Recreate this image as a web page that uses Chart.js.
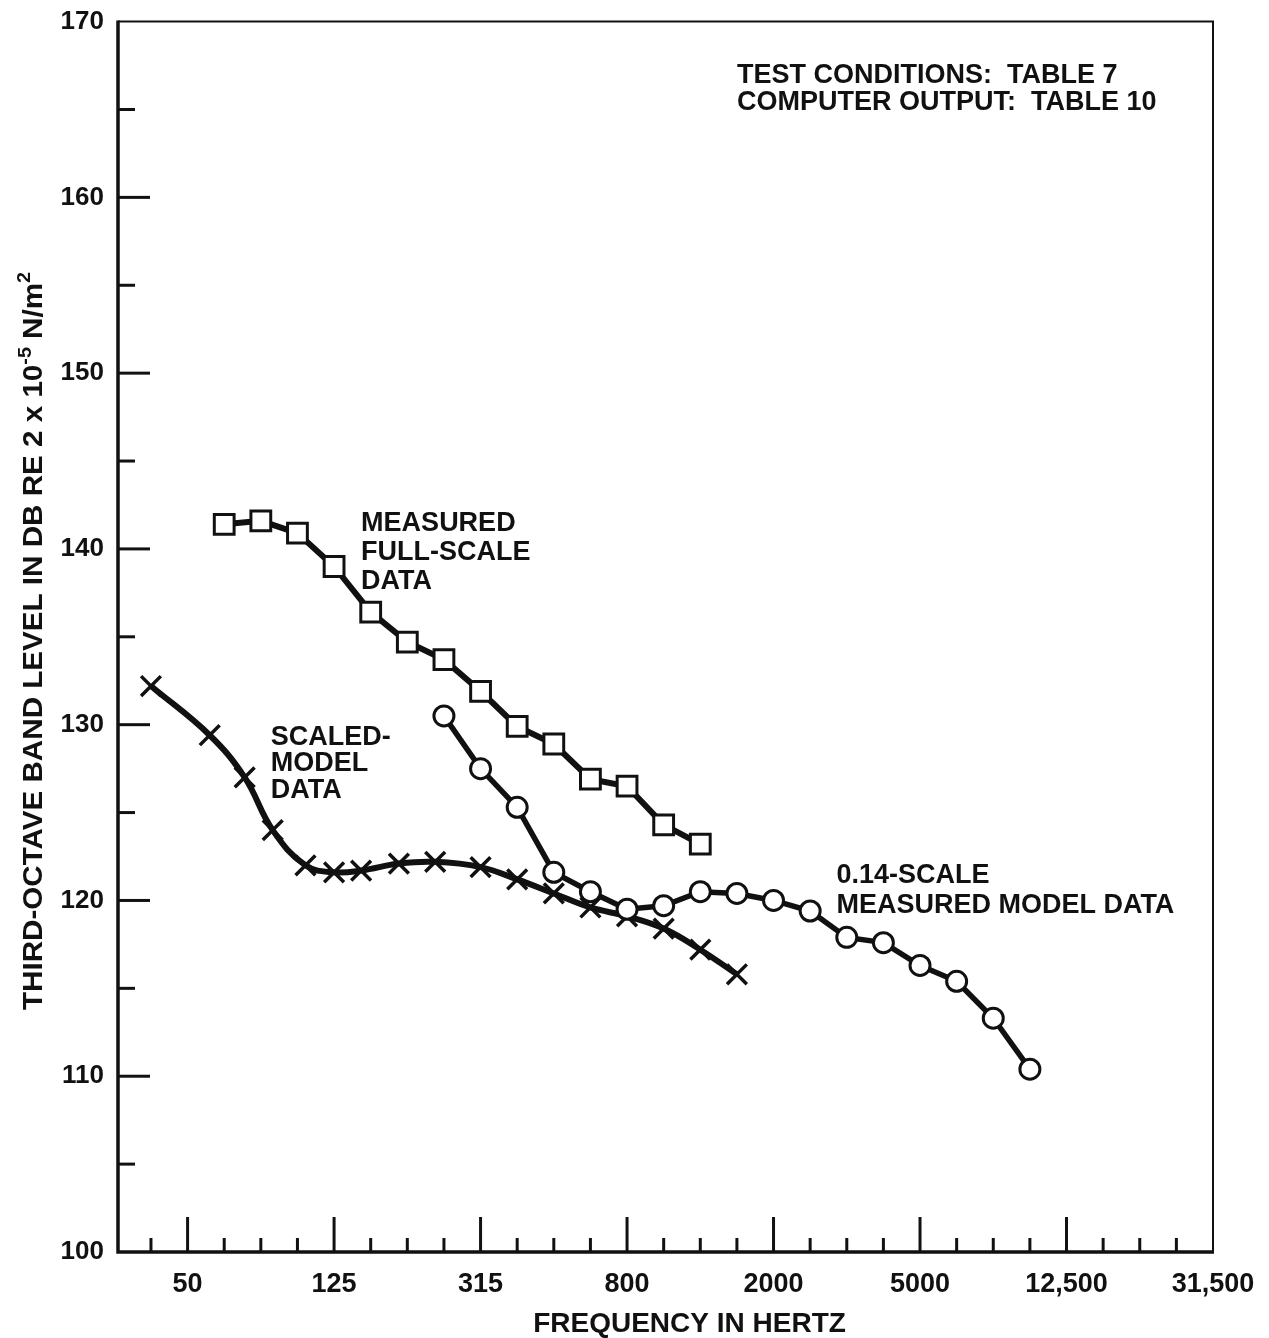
<!DOCTYPE html>
<html>
<head>
<meta charset="utf-8">
<script src="https://cdn.jsdelivr.net/npm/chart.js@4.4.1/dist/chart.umd.min.js"></script>
<style>
  html, body { margin: 0; padding: 0; background: #fff; }
  #wrap { width: 1269px; height: 1338px; position: relative; }
</style>
</head>
<body>
<div id="wrap"><canvas id="levelChart"></canvas></div>
<script>
// third-octave band centres along the frequency axis (nominal Hz)
var bands = [40, 50, 63, 80, 100, 125, 160, 200, 250, 315, 400, 500, 630, 800, 1000,
             1250, 1600, 2000, 2500, 3150, 4000, 5000, 6300, 8000, 10000, 12500, 16000,
             20000, 25000, 31500];
var bandLabels = { 50: '50', 125: '125', 315: '315', 800: '800', 2000: '2000',
                   5000: '5000', 12500: '12,500', 31500: '31,500' };

// measured full-scale data (squares)
var fullScaleHz = [63, 80, 100, 125, 160, 200, 250, 315, 400, 500, 630, 800, 1000, 1250];
var fullScaleDb = [141.4, 141.6, 140.9, 139.0, 136.4, 134.7, 133.7, 131.9, 129.9, 128.9,
                   126.9, 126.5, 124.3, 123.2];

// 0.14-scale measured model data (circles)
var modelHz = [250, 315, 400, 500, 630, 800, 1000, 1250, 1600, 2000, 2500, 3150, 4000,
               5000, 6300, 8000, 10000];
var modelDb = [130.5, 127.5, 125.3, 121.6, 120.5, 119.5, 119.7, 120.5, 120.4, 120.0,
               119.4, 117.9, 117.6, 116.3, 115.4, 113.3, 110.4];

// scaled-model data (crosses), frequencies shifted by the model scale
var scaledHz = [40, 57.5, 72, 86, 105, 125, 150, 190, 237, 315, 400, 500, 630, 800,
                1000, 1250, 1600];
var scaledDb = [132.2, 129.4, 127.0, 124.0, 122.0, 121.6, 121.7, 122.1, 122.2, 121.9,
                121.2, 120.4, 119.6, 119.1, 118.4, 117.2, 115.8];

// position along the band axis: band index, log-interpolated between centres
function bandPos(hz) {
    var i = bands.indexOf(hz);
    if (i >= 0) return i;
    for (i = 0; i < bands.length - 1; i++) {
        if (hz > bands[i] && hz < bands[i + 1]) {
            return i + Math.log(hz / bands[i]) / Math.log(bands[i + 1] / bands[i]);
        }
    }
    return hz < bands[0] ? 0 : bands.length - 1;
}

function toPoints(hz, db) {
    return hz.map(function (f, i) { return { x: bandPos(f), y: db[i] }; });
}

var notes = [
    { hz: 1600, db: 166.5, gap: 27, lines: ['TEST CONDITIONS:  TABLE 7', 'COMPUTER OUTPUT:  TABLE 10'] },
    { hz: 150, db: 141.0, gap: 29, lines: ['MEASURED', 'FULL-SCALE', 'DATA'] },
    { hz: 85, db: 128.85, gap: 26.5, lines: ['SCALED-', 'MODEL', 'DATA'] },
    { hz: 2950, db: 121.0, gap: 30, lines: ['0.14-SCALE', 'MEASURED MODEL DATA'] }
];

var ink = '#111';
var face = '"Liberation Sans", Arial, sans-serif';

var decorations = {
    id: 'decorations',
    afterDraw: function (chart) {
        var ctx = chart.ctx;
        var a = chart.chartArea;
        var xs = chart.scales.x;
        var ys = chart.scales.y;
        ctx.save();
        ctx.strokeStyle = ink;
        ctx.fillStyle = ink;
        ctx.lineCap = 'butt';

        // frame: heavier left and bottom axes
        ctx.lineWidth = 2;
        ctx.beginPath();
        ctx.moveTo(a.left, a.top); ctx.lineTo(a.right, a.top); ctx.lineTo(a.right, a.bottom);
        ctx.stroke();
        ctx.lineWidth = 3.5;
        ctx.beginPath();
        ctx.moveTo(a.left, a.top - 1); ctx.lineTo(a.left, a.bottom); ctx.lineTo(a.right + 1, a.bottom);
        ctx.stroke();

        // inward tick marks
        ctx.lineWidth = 3;
        ys.ticks.forEach(function (t) {
            if (t.value <= ys.min || t.value >= ys.max) return;
            var y = ys.getPixelForValue(t.value);
            var len = t.value % 10 === 0 ? 32 : 17;
            ctx.beginPath(); ctx.moveTo(a.left, y); ctx.lineTo(a.left + len, y); ctx.stroke();
        });
        xs.ticks.forEach(function (t) {
            if (t.value >= xs.max) return;
            var x = xs.getPixelForValue(t.value);
            var len = bandLabels[bands[t.value]] ? 35 : 14;
            ctx.beginPath(); ctx.moveTo(x, a.bottom); ctx.lineTo(x, a.bottom - len); ctx.stroke();
        });

        // notes inside the plot
        ctx.font = 'bold 27px ' + face;
        ctx.textAlign = 'left';
        ctx.textBaseline = 'alphabetic';
        notes.forEach(function (n) {
            var x = xs.getPixelForValue(bandPos(n.hz));
            var y = ys.getPixelForValue(n.db);
            n.lines.forEach(function (s, k) { ctx.fillText(s, x, y + k * n.gap); });
        });

        // x-axis title
        ctx.font = 'bold 28px ' + face;
        ctx.textAlign = 'center';
        ctx.fillText('FREQUENCY IN HERTZ', (a.left + a.right) / 2 + 24, chart.height - 6);

        // y-axis title with superscripts, fitted to its span
        var parts = [
            { t: 'THIRD-OCTAVE BAND LEVEL IN DB RE 2 x 10', s: 27, dy: 0 },
            { t: '-5', s: 18, dy: -11 },
            { t: ' N/m', s: 27, dy: 0 },
            { t: '2', s: 18, dy: -12 }
        ];
        var total = 0;
        parts.forEach(function (p) {
            ctx.font = 'bold ' + p.s + 'px ' + face;
            p.w = ctx.measureText(p.t).width;
            total += p.w;
        });
        var span = 738;
        ctx.translate(42, 641);
        ctx.rotate(-Math.PI / 2);
        ctx.scale(span / total, 1);
        ctx.textAlign = 'left';
        var cx = -total / 2;
        parts.forEach(function (p) {
            ctx.font = 'bold ' + p.s + 'px ' + face;
            ctx.fillText(p.t, cx, p.dy);
            cx += p.w;
        });
        ctx.restore();
    }
};

var ctx = document.getElementById('levelChart').getContext('2d');
var levelChart = new Chart(ctx, {
    type: 'line',
    data: {
        datasets: [{
            label: 'Measured full-scale data',
            data: toPoints(fullScaleHz, fullScaleDb),
            borderColor: ink,
            borderWidth: 6,
            pointStyle: 'rect',
            pointRadius: 14,
            pointBorderWidth: 3,
            pointBackgroundColor: '#fff',
            pointBorderColor: ink,
            tension: 0
        }, {
            label: '0.14-scale measured model data',
            data: toPoints(modelHz, modelDb),
            borderColor: ink,
            borderWidth: 5.5,
            pointStyle: 'circle',
            pointRadius: 10,
            pointBorderWidth: 3,
            pointBackgroundColor: '#fff',
            pointBorderColor: ink,
            tension: 0
        }, {
            label: 'Scaled-model data',
            data: toPoints(scaledHz, scaledDb),
            borderColor: ink,
            borderWidth: 6,
            pointStyle: 'crossRot',
            pointRadius: 14,
            pointBorderWidth: 3.5,
            pointBorderColor: ink,
            tension: 0.4
        }]
    },
    options: {
        responsive: true,
        maintainAspectRatio: false,
        animation: false,
        layout: { padding: { left: 0, right: 56, top: 5, bottom: 0 } },
        plugins: {
            legend: { display: false },
            tooltip: { enabled: false }
        },
        scales: {
            x: {
                type: 'linear',
                min: -0.9,
                max: bands.length - 1,
                grid: { display: false },
                border: { display: false },
                afterBuildTicks: function (scale) {
                    scale.ticks = bands.map(function (b, i) { return { value: i }; });
                },
                afterFit: function (scale) { scale.height = 86; },
                ticks: {
                    autoSkip: false,
                    maxRotation: 0,
                    minRotation: 0,
                    padding: 8,
                    color: ink,
                    font: { family: face, size: 27, weight: 'bold' },
                    callback: function (v) { return bandLabels[bands[v]] || ''; }
                }
            },
            y: {
                min: 100,
                max: 170,
                grid: { display: false },
                border: { display: false },
                afterFit: function (scale) { scale.width = 118; },
                ticks: {
                    stepSize: 5,
                    padding: 6,
                    color: ink,
                    font: { family: face, size: 26, weight: 'bold' },
                    callback: function (v) { return v % 10 === 0 ? v : ''; }
                }
            }
        }
    },
    plugins: [decorations]
});
</script>
</body>
</html>
